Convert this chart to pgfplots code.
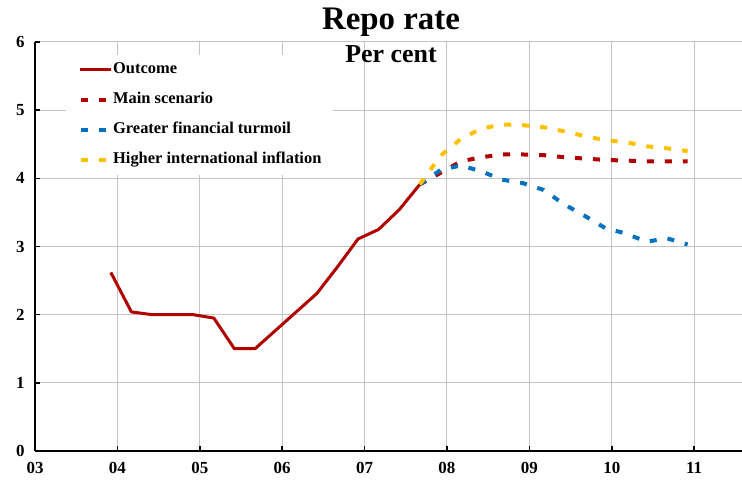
\documentclass[border=0pt]{standalone}
\usepackage{pgfplots}
\pgfplotsset{compat=1.18}
\usepackage{fontspec}
\setmainfont{Liberation Serif}
\definecolor{cred}{RGB}{176,0,0}
\definecolor{cblue}{RGB}{0,112,192}
\definecolor{cyellow}{RGB}{255,192,0}
\definecolor{cgrid}{RGB}{196,196,196}
\begin{document}
\begin{tikzpicture}[x=1bp,y=1bp]
\useasboundingbox (0,0) rectangle (742,486);
\begin{axis}[
  at={(35bp,35bp)}, anchor=south west,
  scale only axis, width=707bp, height=409bp,
  xmin=2003, xmax=2011.58, ymin=0, ymax=6,
  axis lines*=left,
  axis line style={line width=2bp, black},
  xtick={2003,...,2011},
  xticklabels={03,04,05,06,07,08,09,10,11},
  ytick={0,...,6},
  tick align=inside,
  major tick length=5bp,
  tick style={line width=1.5bp, black},
  xtick pos=left, ytick pos=left,
  grid=major,
  major grid style={line width=1bp, cgrid},
  /pgf/number format/assume math mode=true,
  tick label style={font=\fontsize{17}{18}\selectfont\bfseries},
  yticklabel style={xshift=-7bp},
  xticklabel style={yshift=-8bp},
  clip=false,
  legend style={at={(axis description cs:0.0438,0.9695)}, anchor=north west,
    draw=none, fill=white, inner xsep=12bp, inner ysep=0pt,
    font=\fontsize{16.5}{18}\selectfont\bfseries,
    row sep=0pt,
    nodes={inner sep=0pt, minimum height=30bp, text height=11bp, text depth=4bp},
    /tikz/column 1/.style={column sep=0bp}},
  legend cell align=left,
  legend image code/.code={\draw[#1] (0bp,0bp) -- (31bp,0bp);},
]
\addlegendimage{cred, line width=3bp}
\addlegendentry{Outcome}
\addlegendimage{cred, line width=4bp, dash pattern=on 7bp off 11bp, dash phase=-1bp}
\addlegendentry{Main scenario}
\addlegendimage{cblue, line width=4bp, dash pattern=on 7bp off 11bp, dash phase=-1bp}
\addlegendentry{Greater financial turmoil}
\addlegendimage{cyellow, line width=4bp, dash pattern=on 7bp off 11bp, dash phase=-1bp}
\addlegendentry{Higher international inflation}

% Outcome
\addplot[forget plot, cred, line width=3bp, line join=round] coordinates {
(2003.92,2.62) (2004.17,2.04) (2004.42,2.00) (2004.67,2.00) (2004.92,2.00)
(2005.17,1.95) (2005.42,1.50) (2005.67,1.50) (2005.92,1.77) (2006.17,2.04)
(2006.42,2.31) (2006.67,2.70) (2006.92,3.11) (2007.17,3.25) (2007.42,3.54)
(2007.67,3.91)};

% Main scenario
\addplot[forget plot, cred, line width=4bp, dash pattern=on 7bp off 11bp] coordinates {
(2007.67,3.91) (2007.92,4.08) (2008.17,4.25) (2008.42,4.31) (2008.67,4.35)
(2008.92,4.35) (2009.17,4.34) (2009.42,4.31) (2009.67,4.29) (2009.92,4.27)
(2010.17,4.26) (2010.42,4.25) (2010.67,4.25) (2010.92,4.25)};

% Greater financial turmoil
\addplot[forget plot, cblue, line width=4bp, dash pattern=on 7bp off 11bp] coordinates {
(2007.67,3.91) (2007.92,4.12) (2008.17,4.19) (2008.42,4.10) (2008.67,3.98)
(2008.92,3.93) (2009.17,3.83) (2009.42,3.62) (2009.67,3.45) (2009.92,3.27)
(2010.17,3.19) (2010.42,3.07) (2010.67,3.12) (2010.92,3.03)};

% Higher international inflation
\addplot[forget plot, cyellow, line width=4bp, dash pattern=on 7bp off 11bp] coordinates {
(2007.67,3.91) (2007.92,4.33) (2008.17,4.58) (2008.42,4.73) (2008.67,4.79)
(2008.92,4.78) (2009.17,4.75) (2009.42,4.69) (2009.67,4.62) (2009.92,4.56)
(2010.17,4.53) (2010.42,4.47) (2010.67,4.44) (2010.92,4.40)};
\end{axis}
\node[anchor=base, font=\fontsize{33}{36}\selectfont\bfseries] at (391,456) {Repo rate};
\node[anchor=base, font=\fontsize{26}{28}\selectfont\bfseries] at (391,423) {Per cent};
\end{tikzpicture}
\end{document}
